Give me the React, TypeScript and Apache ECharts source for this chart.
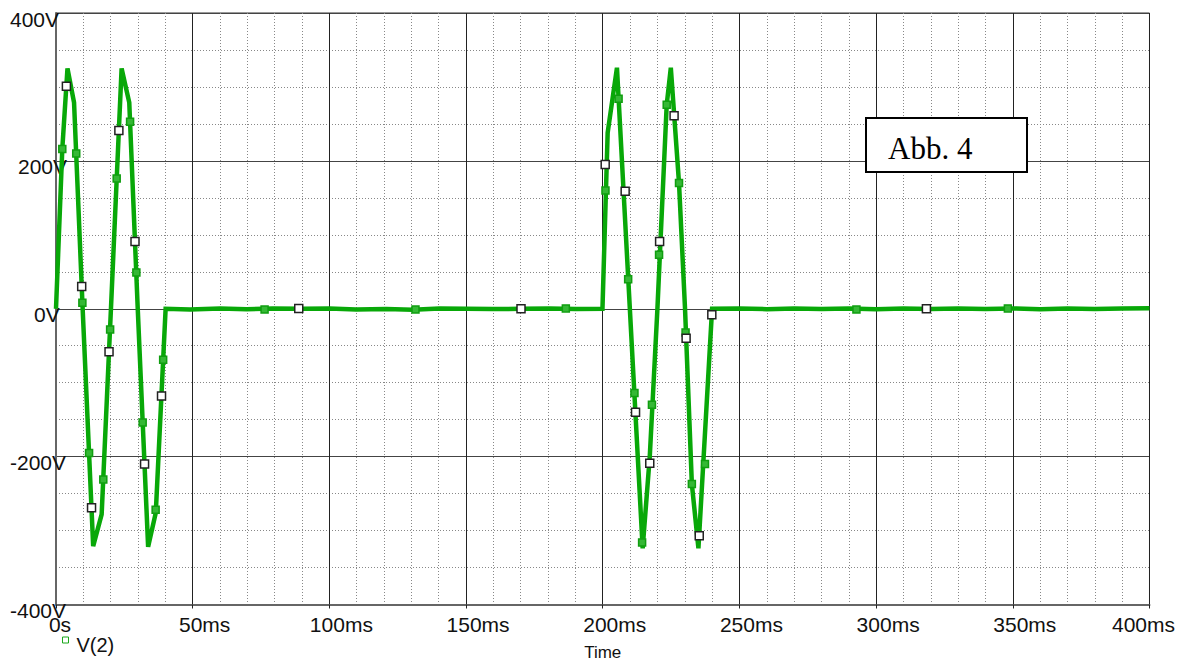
import React, { useEffect, useRef } from "react";
import * as echarts from "echarts";

// ---- data (time in ms, voltage in V) ----
const burst1: [number, number][] = [
  [0, 0], [2.3, 216], [4.2, 325], [6.6, 279], [9.75, 0], [13.6, -321], [16.7, -278],
  [20.1, 0], [24.0, 325], [26.8, 279], [29.9, 0], [33.7, -322], [36.5, -276], [40.1, 0],
];
const flat1: [number, number][] = [
  [49, -0.9], [60, 0.5], [69.7, -0.6], [79.3, 0.5], [90.2, 0], [100, 0.5], [109.8, -0.9],
  [120.8, -0.5], [130.5, -1.2], [140.3, 0.5], [150, 0], [159.7, -0.5], [170, 0],
  [180.5, 0.5], [190.2, -0.5], [199.9, 0],
];
const burst2: [number, number][] = [
  [201.8, 238], [205.2, 326], [214.6, -324], [217.2, -200], [220.0, 0], [223.4, 276],
  [224.9, 326], [227.9, 170], [230.1, 0], [232.6, -237], [235.0, -324], [240.0, 0],
];
const flat2: [number, number][] = [
  [250, 0.5], [260, -0.6], [270, 0.4], [280, -0.5], [290, 0.3], [300, -0.6], [310, 0.4],
  [320, -0.3], [330, 0.5], [340, -0.5], [350, 0.4], [360, -0.6], [370, 0.3], [380, -0.5],
  [390, 0.3], [400, 0.6],
];
const greenMarkers: [number, number][] = [
  [2.3, 216], [7.4, 210], [9.65, 8], [12.1, -195], [17.3, -231], [19.8, -28], [22.2, 176],
  [27.1, 253], [29.4, 49], [31.7, -154], [36.45, -272], [39.2, -69],
  [76.3, -1], [131.5, -1], [186.5, 0.5],
  [201.0, 160], [205.8, 284], [209.3, 40], [211.6, -114], [214.4, -316], [218.0, -130],
  [220.6, 73], [223.4, 276], [227.9, 170], [230.3, -32], [232.6, -237], [237.4, -210],
  [292.8, -1], [348.2, 0.5],
];
const whiteMarkers: [number, number][] = [
  [3.8, 301], [9.4, 30], [13.0, -269], [19.4, -58], [23.0, 241], [28.9, 91], [32.4, -210],
  [38.6, -118], [88.8, 0.5], [170.1, 0],
  [200.9, 195], [208.2, 159], [212.0, -140], [217.2, -209], [220.8, 91], [226.1, 261],
  [230.5, -40], [235.3, -307], [239.9, -8], [318.4, 0],
];
const xTicks = [0, 50, 100, 150, 200, 250, 300, 350, 400];
const yTicks = [-400, -200, 0, 200, 400];

const FONT = '"Liberation Sans", Arial, sans-serif';

export default function App() {
  const ref = useRef<HTMLDivElement>(null);
  useEffect(() => {
    document.body.style.margin = "0";
    document.body.style.overflow = "hidden";
    const chart = echarts.init(ref.current!, undefined, { renderer: "svg", width: 1178, height: 666 });
    const trace = [...burst1, ...flat1, ...burst2, ...flat2];
    chart.setOption({
      animation: false,
      backgroundColor: "#ffffff",
      grid: { left: 56, right: 27, top: 13, bottom: 57, show: true, borderColor: "#333", borderWidth: 1 },
      legend: {
        left: 57, top: 620, itemWidth: 6, itemHeight: 6, selectedMode: false,
        formatter: "{a|{name}}",
        textStyle: {
          fontFamily: FONT, fontSize: 20, color: "#111",
          rich: { a: { fontFamily: FONT, fontSize: 20, lineHeight: 20, color: "#111", padding: [10, 0, 0, 3] } },
        },
        data: [{ name: "V(2)", icon: "rect", itemStyle: { color: "#fff", borderColor: "#1aa81a", borderWidth: 1 } }],
      },
      xAxis: {
        type: "value", min: xTicks[0], max: xTicks[xTicks.length - 1], interval: 50,
        name: "Time", nameLocation: "middle", nameGap: 41,
        nameTextStyle: { fontFamily: FONT, fontSize: 17, color: "#111", lineHeight: 14 },
        axisLine: { show: true, onZero: false, lineStyle: { color: "#666", width: 2 } },
        axisTick: { show: true, length: 4, lineStyle: { color: "#222" } },
        axisLabel: {
          margin: 9, fontFamily: FONT, fontSize: 21, color: "#111",
          formatter: (v: number) => (v === 0 ? "{a|0s}" : v === 400 ? "{c|400ms}" : `{b|${v}ms}`),
          rich: {
            a: { fontFamily: FONT, fontSize: 21, color: "#111", padding: [0, 0, 0, 8] },
            b: { fontFamily: FONT, fontSize: 21, color: "#111", padding: [0, 0, 0, 24] },
            c: { fontFamily: FONT, fontSize: 21, color: "#111", padding: [0, 12, 0, 0] },
          },
        },
        splitLine: { show: true, lineStyle: { color: "#222", width: 1 } },
        minorTick: { show: false, splitNumber: 5 },
        minorSplitLine: { show: true, lineStyle: { color: "#888", width: 1, type: [1, 2] } },
      },
      yAxis: {
        type: "value", min: yTicks[0], max: yTicks[yTicks.length - 1], interval: 200,
        axisLine: { show: true, onZero: false, lineStyle: { color: "#666", width: 2 } },
        axisTick: { show: false },
        axisLabel: {
          margin: 46, align: "left", fontFamily: FONT, fontSize: 21, color: "#111",
          formatter: (v: number) => (v === 0 ? "{z|0V}" : v === 200 ? "{t|200V}" : `{n|${v}V}`),
          rich: {
            n: { fontFamily: FONT, fontSize: 21, color: "#111", padding: [12, 0, 0, 0] },
            t: { fontFamily: FONT, fontSize: 21, color: "#111", padding: [12, 0, 0, 8] },
            z: { fontFamily: FONT, fontSize: 21, color: "#111", padding: [12, 0, 0, 24] },
          },
        },
        splitLine: { show: true, lineStyle: { color: "#444", width: 1 } },
        minorTick: { show: false, splitNumber: 4 },
        minorSplitLine: { show: true, lineStyle: { color: "#888", width: 1, type: [1, 2] } },
      },
      series: [
        {
          name: "V(2)", type: "line", data: trace, showSymbol: false, symbol: "none",
          lineStyle: { color: "#08a808", width: 4.5, join: "miter", miterLimit: 6 },
          itemStyle: { color: "#08a808" }, z: 3,
        },
        {
          name: "mkG", type: "scatter", data: greenMarkers, symbol: "rect", symbolSize: 7,
          itemStyle: { color: "#35b835", borderColor: "#109e10", borderWidth: 1.5, opacity: 1 }, z: 4,
        },
        {
          name: "mkW", type: "scatter", data: whiteMarkers, symbol: "rect", symbolSize: 8,
          itemStyle: { color: "#ffffff", borderColor: "#222", borderWidth: 1.5, opacity: 1 }, z: 5,
        },
      ],
      graphic: [
        {
          type: "rect", z: 100, shape: { x: 866, y: 118, width: 161, height: 54 },
          style: { fill: "#fff", stroke: "#000", lineWidth: 2 },
        },
        {
          type: "text", z: 101, x: 888, y: 148,
          style: { text: "Abb. 4", font: '31px "Liberation Serif", "Times New Roman", serif', fill: "#000", verticalAlign: "middle" },
        },
      ],
    });
    return () => chart.dispose();
  }, []);
  return <div ref={ref} style={{ width: 1178, height: 666, overflow: "hidden" }} />;
}
